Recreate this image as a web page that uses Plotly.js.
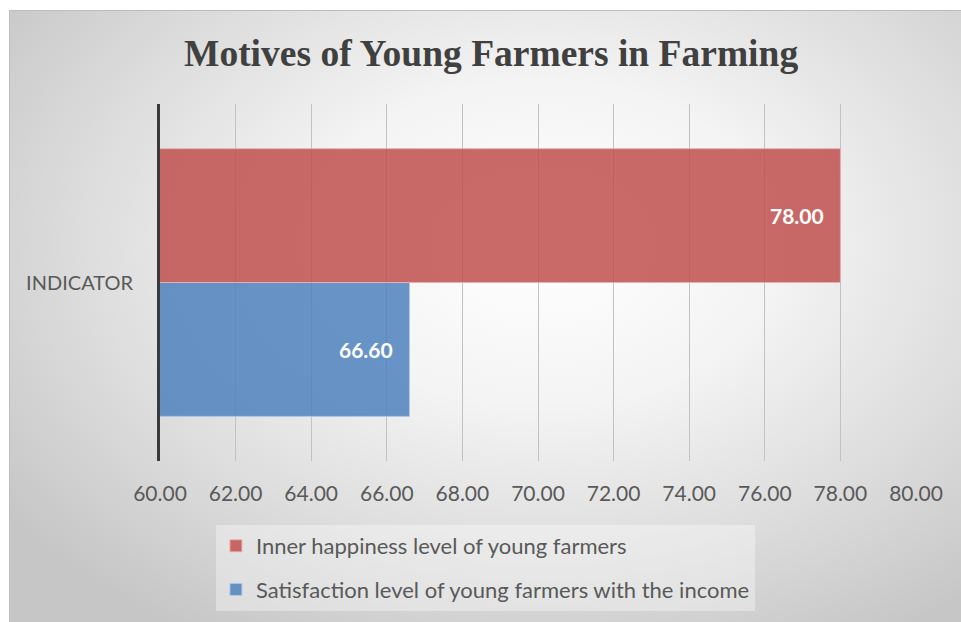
<!DOCTYPE html>
<html>
<head>
<meta charset="utf-8">
<script src="https://cdn.plot.ly/plotly-3.0.1.min.js"></script>
<style>
  html, body { margin: 0; padding: 0; background: #ffffff; }
  #bg { position: absolute; left: 9px; top: 10px; width: 952px; height: 612px;
        background: radial-gradient(ellipse 70% 75% at 56% 38%, #ffffff 0%, #f4f4f4 35%, #dcdcdc 70%, #c6c6c6 100%);
        border-top: 1px solid #bdbdbd; border-left: 1px solid #bdbdbd; box-sizing: border-box; }
  #chart { position: absolute; left: 0; top: 0; width: 961px; height: 622px; }
</style>
</head>
<body>
<div id="bg"></div>
<div id="chart"></div>
<script>
const categories = ["INDICATOR"];
const seriesNames = ["Inner happiness level of young farmers", "Satisfaction level of young farmers with the income"];
const happinessValues = [78.00];
const satisfactionValues = [66.60];
const tickValues = [60, 62, 64, 66, 68, 70, 72, 74, 76, 78, 80];
const tickLabels = ["60.00", "62.00", "64.00", "66.00", "68.00", "70.00", "72.00", "74.00", "76.00", "78.00", "80.00"];

const labelFont = { family: "Lato, 'Open Sans', sans-serif", size: 21, color: "#ffffff", weight: "bold" };

const traces = [
  {
    type: "bar", orientation: "h", name: seriesNames[1], legendgroup: "b", legendrank: 2,
    y: categories, x: satisfactionValues,
    marker: { color: "rgba(79,129,189,0.85)", line: { color: "rgba(180,200,230,0.9)", width: 1 } },
    hoverinfo: "x"
  },
  {
    type: "bar", orientation: "h", name: seriesNames[0], legendgroup: "a", legendrank: 1,
    y: categories, x: happinessValues,
    marker: { color: "rgba(192,80,77,0.85)", line: { color: "rgba(235,175,175,0.9)", width: 1 } },
    hoverinfo: "x"
  }
];

const annotations = [];
happinessValues.forEach((v, i) => annotations.push({
  x: v, y: categories[i], xref: "x", yref: "y", yshift: 67, xshift: -14,
  text: v.toFixed(2), showarrow: false, xanchor: "right", font: labelFont
}));
satisfactionValues.forEach((v, i) => annotations.push({
  x: v, y: categories[i], xref: "x", yref: "y", yshift: -67, xshift: -14,
  text: v.toFixed(2), showarrow: false, xanchor: "right", font: labelFont
}));

const layout = {
  width: 961, height: 622,
  paper_bgcolor: "rgba(0,0,0,0)", plot_bgcolor: "rgba(0,0,0,0)",
  margin: { l: 160, r: 45, t: 104, b: 160, pad: 0 },
  title: {
    text: "<b>Motives of Young Farmers in Farming</b>",
    font: { family: "'Liberation Serif', 'Times New Roman', serif", size: 37.5, color: "#404040" },
    x: 0.511, xanchor: "center", xref: "container", y: 0.915, yanchor: "middle"
  },
  barmode: "group", bargap: 0.25, bargroupgap: 0,
  xaxis: {
    range: [60, 80], tickvals: tickValues, ticktext: tickLabels,
    showgrid: true, gridcolor: "#c2c2c2", gridwidth: 1, zeroline: false,
    showline: false, ticks: "", ticklabelstandoff: 18,
    tickfont: { family: "Lato, 'Open Sans', sans-serif", size: 21, color: "#595959" }
  },
  yaxis: {
    showline: true, linecolor: "#3a3a3a", linewidth: 3, showgrid: false, ticks: "",
    ticklabelstandoff: 20,
    tickfont: { family: "Lato, 'Open Sans', sans-serif", size: 20, color: "#595959" }
  },
  showlegend: true,
  legend: {
    orientation: "v", traceorder: "grouped", tracegroupgap: 12,
    x: 0.074, xanchor: "left", y: -0.176, yanchor: "top",
    bgcolor: "rgba(255,255,255,0.35)", borderwidth: 0,
    font: { family: "Lato, 'Open Sans', sans-serif", size: 22, color: "#595959" },
    itemwidth: 30
  },
  annotations: annotations,
  hovermode: false
};

Plotly.newPlot("chart", traces, layout, { displayModeBar: false, staticPlot: true });
</script>
</body>
</html>
